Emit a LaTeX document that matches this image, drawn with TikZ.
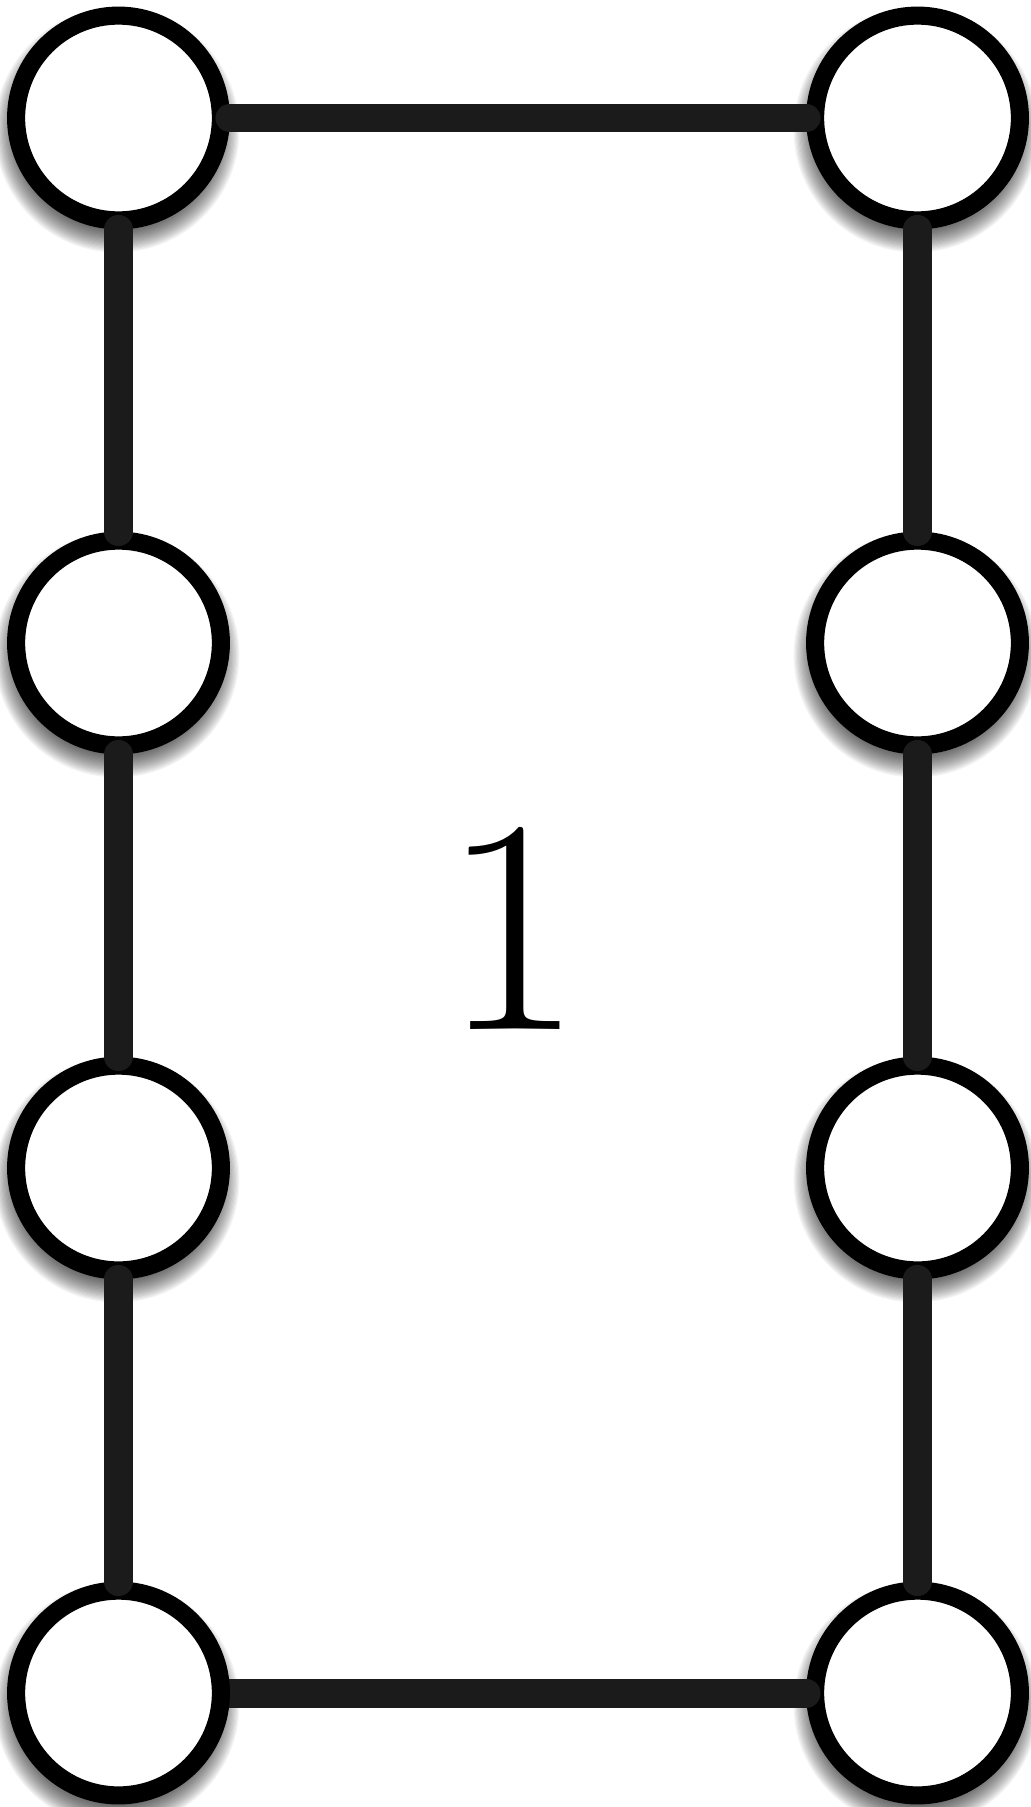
\documentclass[tikz,border=0pt]{standalone}
\usepackage{fontspec}
\usepackage{tikz}
\usetikzlibrary{calc}
\definecolor{vring}{HTML}{000000}
\definecolor{vline}{HTML}{1B1B1B}
\tikzset{
  vtx/.style={circle, draw=vring, fill=white, line width=10.3pt,
              minimum size=40.96mm, inner sep=0pt},
  vedge/.style={vline, line width=16.5pt, line cap=round},
  vblur/.style={black, opacity=0.045},
  vnum/.style={font=\fontsize{174pt}{174pt}\selectfont, inner sep=0pt},
}
\begin{document}
\begin{tikzpicture}[x=1cm,y=1cm]
  \useasboundingbox (0,0) rectangle (20.6,-36.14);

  \def\xl{2.37}  % linke Spalte
  \def\xr{18.35} % rechte Spalte

  % Positionen der Knoten
  \foreach \i/\y in {1/-2.36,2/-12.86,3/-23.36,4/-33.86}{
    \coordinate (pl\i) at (\xl,\y);
    \coordinate (pr\i) at (\xr,\y);
  }

  % weiche Schatten
  \foreach \p in {pl1,pl2,pl3,pl4,pr1,pr2,pr3,pr4}
    \foreach \k in {0,...,20}
      \fill[vblur] ($(\p)+(-0.03,-0.24)$) circle ({1.97+0.024*\k});

  % Knoten
  \node[vtx] (l1) at (pl1) {};
  \node[vtx] (l2) at (pl2) {};
  \node[vtx] (l3) at (pl3) {};
  \node[vtx] (r1) at (pr1) {};
  \node[vtx] (r2) at (pr2) {};
  \node[vtx] (r3) at (pr3) {};
  \node[vtx] (r4) at (pr4) {};

  % untere Kante liegt unter l4
  \draw[vedge] (pl4) -- (r4);
  \node[vtx] (l4) at (pl4) {};

  % Kanten
  \draw[vedge] (l1) -- (r1);
  \draw[vedge] (l1) -- (l2);
  \draw[vedge] (l2) -- (l3);
  \draw[vedge] (l3) -- (l4);
  \draw[vedge] (r1) -- (r2);
  \draw[vedge] (r2) -- (r3);
  \draw[vedge] (r3) -- (r4);

  \node[vnum] (num) at (10.26,-18.56) {1};

\end{tikzpicture}
\end{document}
